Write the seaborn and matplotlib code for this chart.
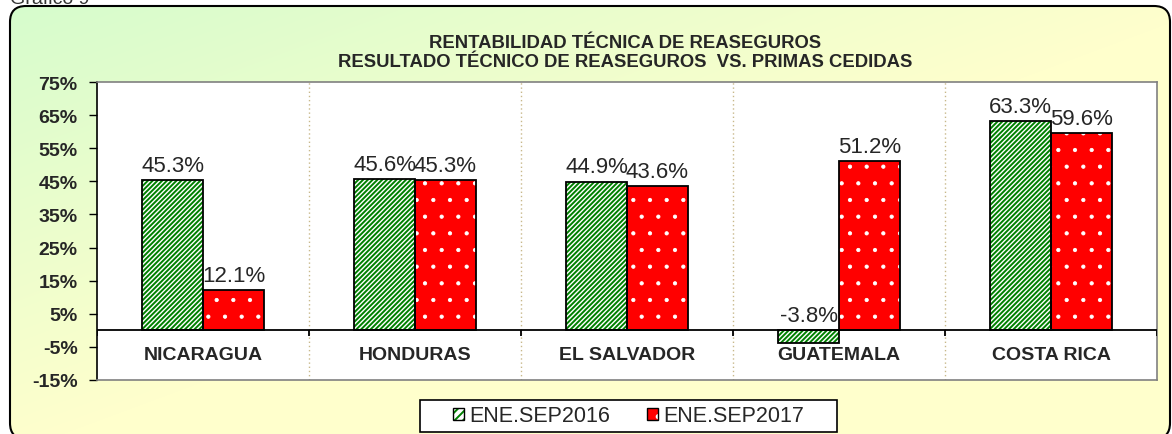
import numpy as np
import pandas as pd
import seaborn as sns
import matplotlib.pyplot as plt
from matplotlib.patches import FancyBboxPatch, Rectangle, Patch
from matplotlib.legend_handler import HandlerTuple

paises = ["NICARAGUA", "HONDURAS", "EL SALVADOR", "GUATEMALA", "COSTA RICA"]
ene_sep_2016 = [45.3, 45.6, 44.9, -3.8, 63.3]
ene_sep_2017 = [12.1, 45.3, 43.6, 51.2, 59.6]
periodos = ["ENE.SEP2016", "ENE.SEP2017"]
y_ticks = [-15, -5, 5, 15, 25, 35, 45, 55, 65, 75]

df = pd.DataFrame({
    "Pais": paises * 2,
    "Periodo": [periodos[0]] * len(paises) + [periodos[1]] * len(paises),
    "Valor": ene_sep_2016 + ene_sep_2017,
})

sns.set_style("white")
plt.rcParams["font.family"] = ["Liberation Sans", "DejaVu Sans"]
plt.rcParams["hatch.linewidth"] = 1.4

W, H = 1172, 435
fig = plt.figure(figsize=(W / 100, H / 100), dpi=100, facecolor="white")

# background: rounded box with a diagonal green -> yellow gradient (pixel coords, y up)
bg = fig.add_axes([0, 0, 1, 1], zorder=0)
bg.set_xlim(0, W)
bg.set_ylim(0, H)
bg.axis("off")
yy, xx = np.mgrid[0:H, 0:W]
t = np.clip(xx / W * 0.95 + yy / H * 0.95, 0, 1)
green = np.array([0.835, 0.988, 0.80])
yellow = np.array([1.0, 1.0, 0.80])
img = green + t[..., None] * (yellow - green)
box = FancyBboxPatch((10, -5), 1160, H - 7 + 5, boxstyle="round,pad=0,rounding_size=16",
                     facecolor="none", edgecolor="black", lw=1.5, zorder=2)
bg.add_patch(box)
im = bg.imshow(img, extent=(0, W, 0, H), origin="upper", aspect="auto", zorder=1)
im.set_clip_path(box)
bg.add_patch(Rectangle((420, H - 433), 417, 32, facecolor="white", edgecolor="black", lw=1.2, zorder=3))

fig.text(10 / W, 1 - 4 / H, "Gráfico 9", fontsize=14, va="baseline", color="#333333")
fig.text(625 / W, 1 - 48 / H, "RENTABILIDAD TÉCNICA DE REASEGUROS",
         ha="center", va="baseline", fontsize=13.3, fontweight="bold")
fig.text(625 / W, 1 - 67 / H, "RESULTADO TÉCNICO DE REASEGUROS  VS. PRIMAS CEDIDAS",
         ha="center", va="baseline", fontsize=13.3, fontweight="bold")

ax = fig.add_axes([97 / W, 1 - 381 / H, 1060 / W, 298 / H], zorder=2)
ax.set_facecolor("white")
sns.barplot(data=df, x="Pais", y="Valor", hue="Periodo", hue_order=periodos,
            palette=["white", "red"], width=0.575, saturation=1, legend=False, ax=ax)

# (hatch colour, hatch, hatch line width)
styles = [("#008000", "///////", 1.4), ("white", ".", 0.6)]
series = [ene_sep_2016, ene_sep_2017]
for cont, (hc, hatch, hlw), vals in zip(ax.containers, styles, series):
    for bar, v in zip(cont, vals):
        bar.set_edgecolor(hc)
        bar.set_hatch(hatch)
        bar.set_linewidth(0)
        if hasattr(bar, "set_hatch_linewidth"):
            bar.set_hatch_linewidth(hlw)
        ax.add_patch(Rectangle(bar.get_xy(), bar.get_width(), bar.get_height(),
                               fill=False, edgecolor="black", lw=1.3, zorder=bar.get_zorder() + 0.1))
        ax.annotate(f"{v:.1f}%", (bar.get_x() + bar.get_width() / 2, max(v, 0)),
                    xytext=(0, 3), textcoords="offset points", ha="center", va="bottom",
                    fontsize=16, zorder=5)

ax.set_xlim(-0.5, len(paises) - 0.5)
ax.set_ylim(-15, 75)
ax.set_yticks(y_ticks)
ax.set_yticklabels([f"{v}%" for v in y_ticks], fontsize=14, fontweight="bold")
ax.set_xticks([])
ax.set_xlabel("")
ax.set_ylabel("")
ax.tick_params(axis="y", left=True, direction="out", length=6, width=1, color="black", pad=8)

for s in ["top", "right", "bottom"]:
    ax.spines[s].set_color("#808080")
    ax.spines[s].set_linewidth(1.2)
ax.spines["left"].set_color("black")
ax.spines["left"].set_linewidth(1.2)

bounds = np.arange(len(paises) + 1) - 0.5
for b in bounds[1:-1]:
    ax.axvline(b, color="#c8b88a", ls=(0, (1, 2)), lw=1, zorder=0.5)
ax.axhline(0, color="black", lw=1.3, zorder=4)
ax.vlines(bounds, -1.8, 0, color="black", lw=1.3, zorder=4)

for i, p in enumerate(paises):
    ax.text(i, -7.4, p, ha="center", va="center", fontsize=14, fontweight="bold")

handles = [
    (Patch(facecolor="white", edgecolor="#008000", hatch="////", lw=0),
     Patch(fill=False, edgecolor="black", lw=1)),
    (Patch(facecolor="red", edgecolor="white", hatch=".", lw=0),
     Patch(fill=False, edgecolor="black", lw=1)),
]
fig.legend(handles, periodos, handler_map={tuple: HandlerTuple(ndivide=1)},
           loc="center", bbox_to_anchor=(628.5 / W, 1 - 417 / H), ncol=2, frameon=False,
           fontsize=15.5, handlelength=0.5, handleheight=0.5, handletextpad=0.25,
           columnspacing=1.7)

plt.savefig("out.png", dpi=100)
